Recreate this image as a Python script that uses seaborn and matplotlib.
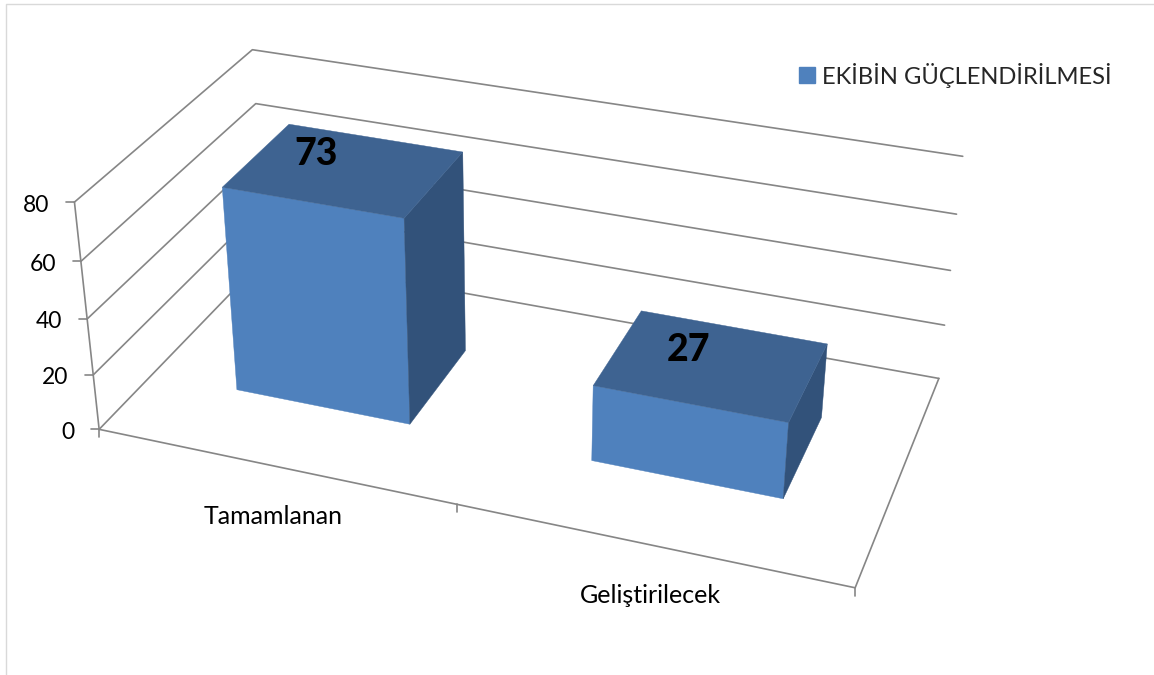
import numpy as np
import pandas as pd
import matplotlib
matplotlib.use("Agg")
import matplotlib.pyplot as plt
from matplotlib.patches import Patch, Polygon
import seaborn as sns

categories = ["Tamamlanan", "Geliştirilecek"]
values = [73, 27]
series_name = "EKİBİN GÜÇLENDİRİLMESİ"
y_ticks = [0, 20, 40, 60, 80]
y_max = 80

FRONT, TOP, SIDE = "#4F81BD", "#3E6391", "#32527A"
LINE = "#868686"

# Calibration of the chart's 3D box: (category pos, depth, value) -> pixel
box_anchors = [
    (0, 0, 0, 99.5, 429.5), (1, 0, 0, 855, 588), (1, 1, 0, 938.3, 378.3),
    (0, 0, 80, 74.5, 202), (0, 0, 60, 81, 261), (0, 0, 40, 87, 319), (0, 0, 20, 93, 375),
    (0, 1, 80, 252.5, 49.5), (0, 1, 60, 255.5, 104),
    (1, 1, 80, 962.3, 156.7), (1, 1, 60, 956.7, 214.3), (1, 1, 40, 951, 270), (1, 1, 20, 945, 325),
]
A = []
for u, v, w, x, y in box_anchors:
    p = [u, v, w / y_max, 1]
    A.append(p + [0, 0, 0, 0] + [-x * c for c in p])
    A.append([0, 0, 0, 0] + p + [-y * c for c in p])
P = np.linalg.svd(np.array(A, float))[2][-1].reshape(3, 4)


def proj(u, v, w):
    h = P @ np.array([u, v, w / y_max, 1.0])
    return h[:2] / h[2]


sns.set_theme(style="white")
plt.rcParams["font.family"] = ["Lato", "DejaVu Sans"]
fig = plt.figure(figsize=(11.54, 6.75), dpi=100)
ax = fig.add_axes([0, 0, 1, 1])

segs = []
for t in y_ticks:
    segs.append((f"g{t}", [proj(0, 0, t), proj(0, 1, t), proj(1, 1, t)]))
    c = proj(0, 0, t)
    segs.append((f"t{t}", [c, c - np.array([8, 0])]))
    ax.text(c[0] - 25, c[1] + 3, str(t), ha="right", va="center", fontsize=16.5, color="black")
segs.append(("axis", [proj(0, 0, 0), proj(0, 0, y_max)]))
segs.append(("floor", [proj(0, 0, 0), proj(1, 0, 0), proj(1, 1, 0)]))
for u in (0, 0.5, 1):
    c = proj(u, 0, 0)
    segs.append((f"x{u}", [c, c + np.array([0, 8])]))
rows = [(k, i, *pt) for k, pts in segs for i, pt in enumerate(pts)]
df = pd.DataFrame(rows, columns=["seg", "order", "px", "py"])
sns.lineplot(data=df, x="px", y="py", units="seg", estimator=None, sort=False,
             color=LINE, lw=1.2, ax=ax, legend=False)
ax.set_xlim(0, 1154)
ax.set_ylim(675, 0)
ax.axis("off")

bar_u = [(0.125, 0.375), (0.625, 0.875)]
bar_v = (0.3, 0.7)
for (u0, u1), val in zip(bar_u, values):
    v0, v1 = bar_v
    faces = [
        ([(u0, v0, 0), (u1, v0, 0), (u1, v0, val), (u0, v0, val)], FRONT),
        ([(u1, v0, 0), (u1, v1, 0), (u1, v1, val), (u1, v0, val)], SIDE),
        ([(u0, v0, val), (u1, v0, val), (u1, v1, val), (u0, v1, val)], TOP),
    ]
    for pts, col in faces:
        ax.add_patch(Polygon([proj(*p) for p in pts], closed=True, fc=col, ec=col, lw=0.3, zorder=3))

label_pos = [(316, 154), (688, 350)]
for (x, y), val in zip(label_pos, values):
    ax.text(x, y, str(val), ha="center", va="center", fontsize=27, fontweight="black", color="black", zorder=5)

for name, u in zip(categories, (0.25, 0.75)):
    c = proj(u, 0, 0)
    ax.text(c[0], c[1] + 51, name, ha="center", va="center", fontsize=18, color="black")

ax.legend(handles=[Patch(fc=FRONT, ec=FRONT, label=series_name)], loc="upper left",
          bbox_to_anchor=(799 / 1154, 1 - 62.5 / 675), frameon=False, fontsize=17.1, borderpad=0,
          borderaxespad=0, handlelength=0.68, handleheight=0.68, handletextpad=0.28)

# faint frame of the picture
ax.plot([5.5, 5.5, 1154], [675, 3.5, 3.5], color="#D9D9D9", lw=1.0)

fig.savefig("out.png", dpi=100, facecolor="white")
